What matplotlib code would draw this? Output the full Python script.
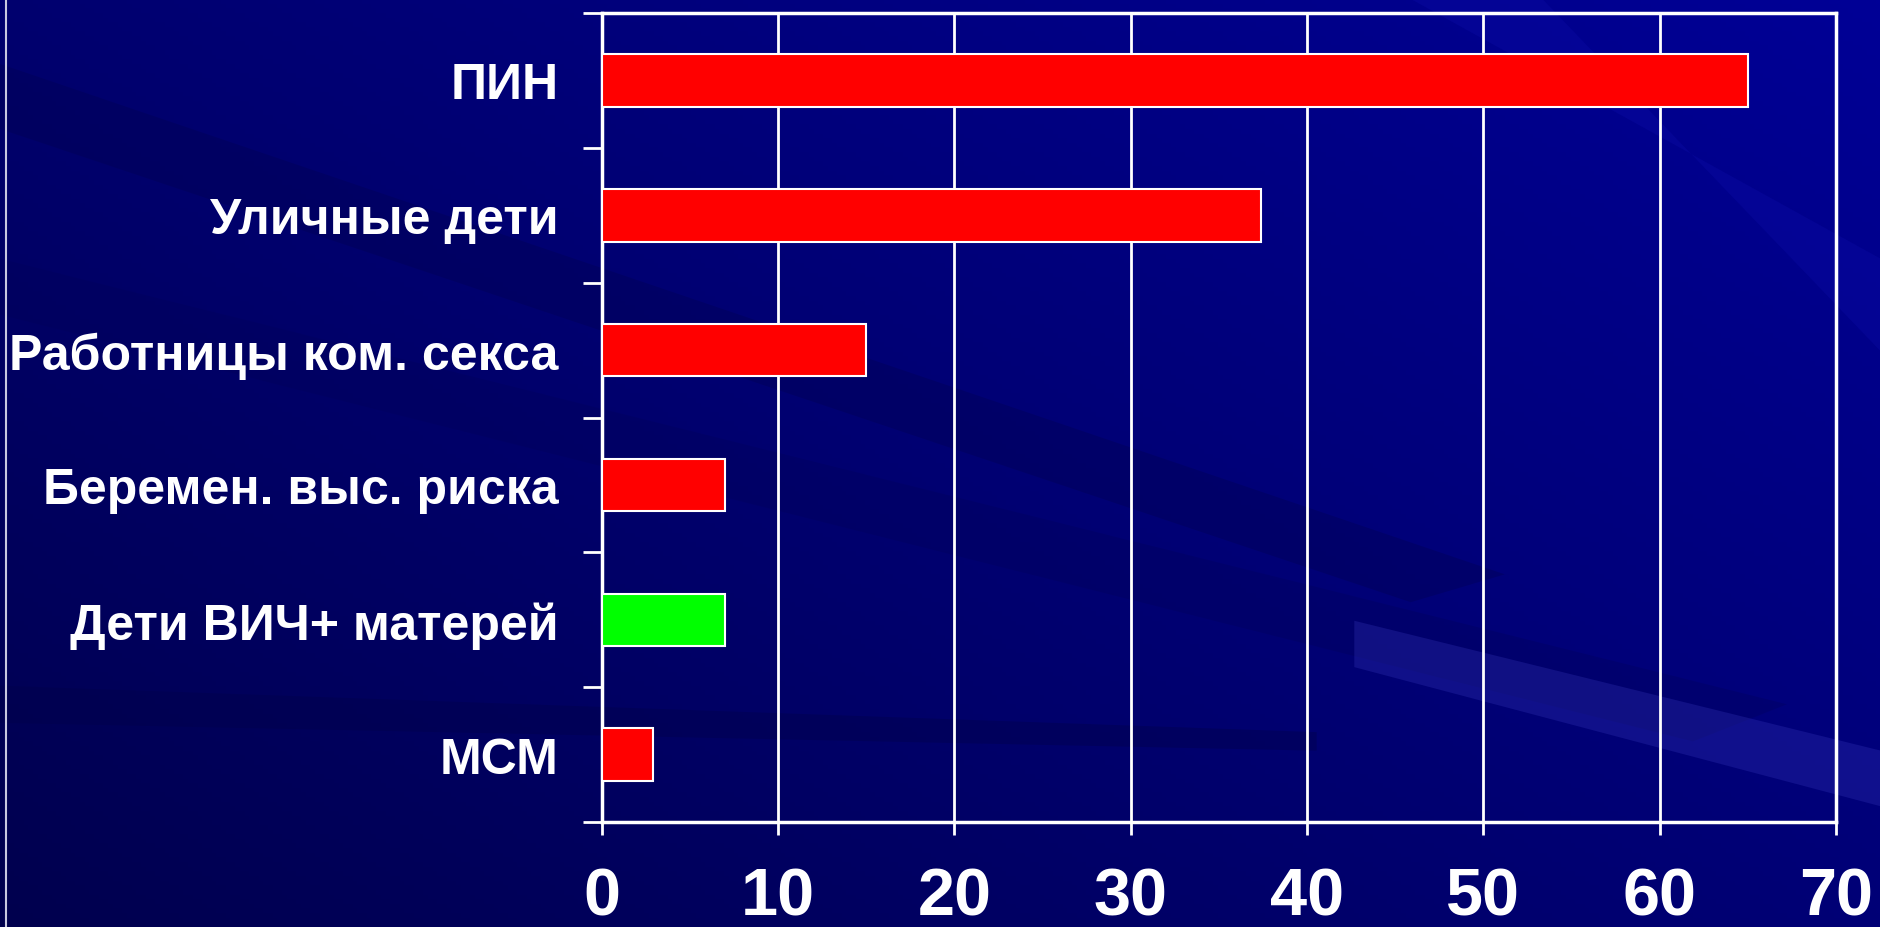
import numpy as np
import matplotlib
matplotlib.use("Agg")
import matplotlib.pyplot as plt
from matplotlib import font_manager
from matplotlib.patches import Polygon

categories = ["ПИН", "Уличные дети", "Работницы ком. секса",
              "Беремен. выс. риска", "Дети ВИЧ+ матерей", "МСМ"]
values = [65, 37.4, 15, 7, 7, 2.9]
bar_colors = ["#ff0000", "#ff0000", "#ff0000", "#ff0000", "#00ff00", "#ff0000"]
xticks = [0, 10, 20, 30, 40, 50, 60, 70]

names = {f.name for f in font_manager.fontManager.ttflist}
family = "Liberation Sans" if "Liberation Sans" in names else "DejaVu Sans"
narrow = "Liberation Sans Narrow" if "Liberation Sans Narrow" in names else family
plt.rcParams["font.family"] = [family, "DejaVu Sans"]

fig = plt.figure(figsize=(18.81, 9.28), dpi=100)

# slide background: navy gradient with diagonal streaks
bg = fig.add_axes([0, 0, 1, 1], zorder=-10)
bg.set_xlim(0, 1)
bg.set_ylim(0, 1)
bg.axis("off")
yy, xx = np.mgrid[0:1:200j, 0:1:400j]
t = np.clip(0.55 * xx + 0.45 * (1 - yy), 0, 1)
dark = np.array([0, 0, 78]) / 255
light = np.array([0, 0, 150]) / 255
img = dark[None, None, :] * (1 - t[..., None]) + light[None, None, :] * t[..., None]
bg.imshow(img, extent=[0, 1, 0, 1], origin="upper", aspect="auto")
streaks = [
    ([(0.0, 0.93), (0.0, 0.86), (0.75, 0.35), (0.8, 0.38)], "#000050", 0.35),
    ([(0.0, 0.72), (0.0, 0.66), (0.9, 0.2), (0.95, 0.24)], "#000058", 0.3),
    ([(0.72, 0.33), (0.72, 0.28), (1.0, 0.13), (1.0, 0.19)], "#4040c8", 0.25),
    ([(0.0, 0.26), (0.0, 0.22), (0.7, 0.19), (0.7, 0.21)], "#00004a", 0.4),
    ([(0.75, 1.0), (0.82, 1.0), (1.0, 0.62), (1.0, 0.72)], "#1010b0", 0.25),
]
for pts, c, a in streaks:
    bg.add_patch(Polygon(pts, closed=True, facecolor=c, alpha=a, edgecolor="none"))
bg.axvline(0.003, color="#c8c8e0", lw=1.5)

ax = fig.add_axes([0.320, 0.113, 0.656, 0.872])
ax.set_facecolor("none")
y = np.arange(len(categories))
ax.barh(y, values, height=0.39, color=bar_colors, edgecolor="white",
        linewidth=1.5, zorder=3)

ax.set_xlim(0, 70)
ax.set_ylim(len(categories) - 0.5, -0.5)
ax.set_xticks(xticks)
ax.set_xticklabels([str(v) for v in xticks])
ax.set_yticks(y)
ax.set_yticklabels(categories)
ax.set_yticks(np.arange(-0.5, len(categories)), minor=True)

ax.grid(axis="x", color="white", linewidth=2, zorder=1)
for s in ax.spines.values():
    s.set_color("white")
    s.set_linewidth(2.5)

ax.tick_params(axis="x", colors="white", length=9, width=2, pad=23,
               labelsize=48)
ax.tick_params(axis="y", which="major", length=0, pad=31, colors="white",
               labelsize=36)
ax.tick_params(axis="y", which="minor", length=14, width=2, color="white")
for lab in ax.get_xticklabels():
    lab.set_fontweight("bold")
    lab.set_color("white")
    lab.set_family([narrow, "DejaVu Sans"])
for lab in ax.get_yticklabels():
    lab.set_fontweight("bold")
    lab.set_color("white")

fig.savefig("out.png", dpi=100)
